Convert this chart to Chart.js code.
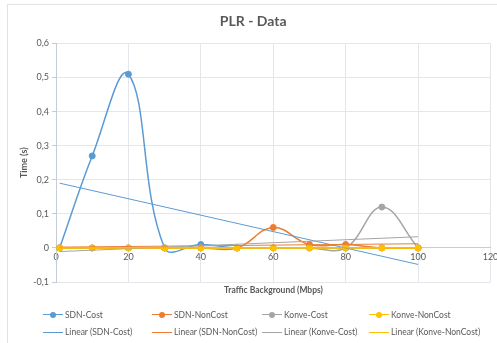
<!DOCTYPE html>
<html>
<head>
<meta charset="utf-8">
<script src="https://cdn.jsdelivr.net/npm/chart.js@4"></script>
<style>
  html, body { margin: 0; padding: 0; background: #fff; }
  #wrap { position: relative; width: 497px; height: 343px; overflow: hidden; font-family: Lato, "Open Sans", sans-serif; color: #595959; }
  #frame { position: absolute; left: 7px; top: 4px; width: 700px; height: 700px; border: 1px solid #dfe3e8; box-sizing: border-box; }
  canvas { position: absolute; left: 0; top: 0; }
  #xtitle { position: absolute; left: 56px; width: 435px; top: 284px; text-align: center; font-size: 8.5px; font-weight: bold; line-height: 12px; }
  .leg { position: absolute; display: flex; align-items: center; font-size: 8.5px; line-height: 12px; white-space: nowrap; }
  .leg .mk { position: relative; width: 20px; height: 12px; margin-right: 2px; }
  .leg .ln { position: absolute; left: 0; right: 0; top: 50%; }
  .leg .dot { position: absolute; left: 7px; top: 3px; width: 6px; height: 6px; border-radius: 50%; }
</style>
</head>
<body>
<div id="wrap">
  <div id="frame"></div>
  <canvas id="c" width="497" height="343"></canvas>
  <div id="xtitle">Traffic Background (Mbps)</div>
  <div id="legend"></div>
</div>
<script>
// Background traffic levels (Mbps) and measured times (s)
const trafficMbps   = [1, 10, 20, 30, 40, 50, 60, 70, 80, 90, 100];
const sdnCost       = [0, 0.27, 0.51, 0, 0.01, 0, 0, 0, 0, 0, 0];
const sdnNonCost    = [0, 0, 0, 0, 0, 0, 0.06, 0.01, 0.01, 0, 0];
const konveCost     = [0, 0, 0, 0, 0, 0, 0, 0, 0, 0.12, 0];
const konveNonCost  = [0, 0, 0, 0, 0, 0, 0, 0, 0, 0, 0];

const seriesNames   = ['SDN-Cost', 'SDN-NonCost', 'Konve-Cost', 'Konve-NonCost'];
const seriesColors  = ['#5b9bd5', '#ed7d31', '#a5a5a5', '#ffc000'];
const xTickLabels   = ['0', '20', '40', '60', '80', '100', '120'];
const yTickLabels   = ['-0,1', '0', '0,1', '0,2', '0,3', '0,4', '0,5', '0,6'];

const allSeries = [sdnCost, sdnNonCost, konveCost, konveNonCost];

// Least-squares linear trend over the measured range
function linearTrend(xs, ys) {
  const n = xs.length;
  const mx = xs.reduce((a, b) => a + b, 0) / n;
  const my = ys.reduce((a, b) => a + b, 0) / n;
  let sxy = 0, sxx = 0;
  for (let i = 0; i < n; i++) {
    sxy += (xs[i] - mx) * (ys[i] - my);
    sxx += (xs[i] - mx) * (xs[i] - mx);
  }
  const slope = sxy / sxx;
  const x0 = xs[0], x1 = xs[n - 1];
  return [
    { x: x0, y: my + slope * (x0 - mx) },
    { x: x1, y: my + slope * (x1 - mx) }
  ];
}

const toPoints = ys => ys.map((y, i) => ({ x: trafficMbps[i], y }));

const datasets = [];
allSeries.forEach((ys, i) => {
  datasets.push({
    label: seriesNames[i],
    data: toPoints(ys),
    borderColor: seriesColors[i],
    backgroundColor: seriesColors[i],
    borderWidth: 1.5,
    pointRadius: 3,
    pointBorderWidth: 1,
    tension: 0.4,
    order: 10 - i,
    marker: true
  });
});
allSeries.forEach((ys, i) => {
  datasets.push({
    label: 'Linear (' + seriesNames[i] + ')',
    data: linearTrend(trafficMbps, ys),
    borderColor: seriesColors[i],
    backgroundColor: seriesColors[i],
    borderWidth: 1,
    pointRadius: 0,
    tension: 0,
    order: 5 - i,
    marker: false
  });
});

const gridColor = '#e3e7ec';
const axisColor = '#c5ccd6';
const textColor = '#595959';
const fontFamily = 'Lato, "Open Sans", sans-serif';

const chart = new Chart(document.getElementById('c'), {
  type: 'line',
  data: { datasets },
  options: {
    responsive: false,
    animation: false,
    events: [],
    layout: { padding: { left: 16, right: 6.5, top: 0, bottom: 61 } },
    plugins: {
      legend: { display: false },
      tooltip: { enabled: false },
      title: {
        display: true,
        text: 'PLR - Data',
        color: textColor,
        font: { family: fontFamily, size: 14, weight: 'bold' },
        padding: { top: 13.5, bottom: 13.2 }
      }
    },
    scales: {
      x: {
        type: 'linear',
        position: { y: 0 },
        min: 0,
        max: 120,
        ticks: {
          stepSize: 20,
          color: textColor,
          font: { family: fontFamily, size: 9 },
          padding: 4,
          maxRotation: 0,
          callback: v => xTickLabels[Math.round(v / 20)]
        },
        grid: { color: gridColor, drawTicks: false },
        border: { color: axisColor, width: 1 },
        afterFit: s => { s.paddingLeft = 0; s.paddingRight = 0; }
      },
      y: {
        min: -0.1,
        max: 0.6,
        ticks: {
          stepSize: 0.1,
          color: textColor,
          font: { family: fontFamily, size: 9 },
          padding: 3,
          callback: v => yTickLabels[Math.round((v + 0.1) / 0.1)]
        },
        grid: { color: gridColor, tickLength: 4, tickColor: axisColor },
        border: { color: axisColor, width: 1 },
        title: {
          display: true,
          text: 'Time (s)',
          color: textColor,
          font: { family: fontFamily, size: 9, weight: 'bold' },
          padding: { top: 3, bottom: 0 }
        },
        afterFit: s => { s.width = 40; s.paddingTop = 0; s.paddingBottom = 0; }
      }
    }
  }
});

// Legend in four columns, two rows, built from the chart's datasets
const legendEl = document.getElementById('legend');
const colLeft = [43, 152, 262, 369];
const rowTop = [309, 326];
chart.data.datasets.forEach((ds, idx) => {
  const col = idx % 4, row = Math.floor(idx / 4);
  const item = document.createElement('div');
  item.className = 'leg';
  item.style.left = colLeft[col] + 'px';
  item.style.top = rowTop[row] + 'px';
  const mk = document.createElement('span');
  mk.className = 'mk';
  const ln = document.createElement('span');
  ln.className = 'ln';
  ln.style.borderTop = (ds.marker ? 1.5 : 1) + 'px solid ' + ds.borderColor;
  ln.style.marginTop = ds.marker ? '-0.75px' : '-0.5px';
  mk.appendChild(ln);
  if (ds.marker) {
    const dot = document.createElement('span');
    dot.className = 'dot';
    dot.style.background = ds.borderColor;
    mk.appendChild(dot);
  }
  const txt = document.createElement('span');
  txt.textContent = ds.label;
  item.appendChild(mk);
  item.appendChild(txt);
  legendEl.appendChild(item);
});
</script>
</body>
</html>
